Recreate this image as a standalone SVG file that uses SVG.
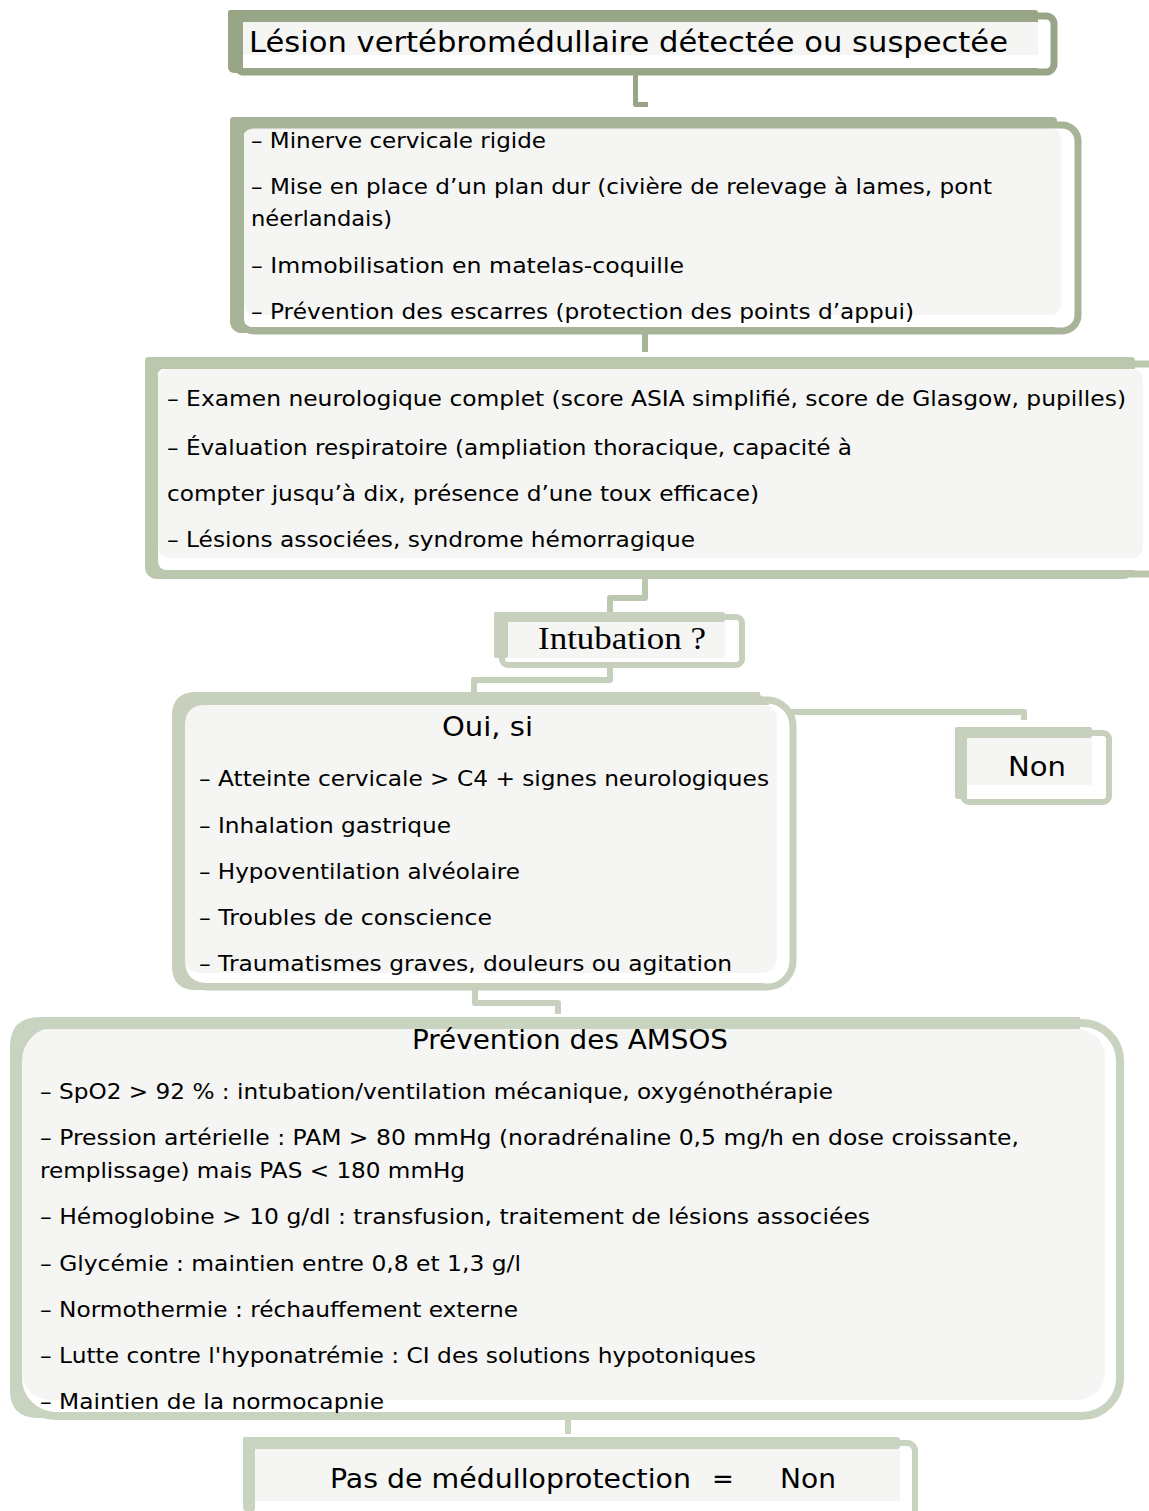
<svg xmlns="http://www.w3.org/2000/svg" width="1149" height="1511" viewBox="0 0 1149 1511">
<style>
  .t { font-family: "DejaVu Sans", "Liberation Sans", sans-serif; fill: #000; }
  .b { font-size: 21px; }
  .h { font-size: 26px; }
  .serif { font-family: "Liberation Serif", "DejaVu Serif", serif; font-size: 31px; fill: #000; }
  .lf { fill: #f5f5f3; }
  .wh { fill: #ffffff; }
  .c1 { fill: #98a586; } .s1 { stroke: #98a586; }
  .c2 { fill: #a7b497; } .s2 { stroke: #a7b497; }
  .c3 { fill: #bbc8ae; } .s3 { stroke: #bbc8ae; }
  .c4 { fill: #c6d0bc; } .s4 { stroke: #c6d0bc; }
  .c5 { fill: #c8d3c0; } .s5 { stroke: #c8d3c0; }
  .ol { fill: none; }
  .cn { fill: none; stroke-linejoin: round; }
</style>

<g id="connectors">
  <path class="cn s1" d="M635.5 74 V104.5 H648" stroke-width="5"/>
  <path class="cn s2" d="M645 334 V352" stroke-width="6"/>
  <path class="cn s3" d="M645 577 V598 H610 V612" stroke-width="6"/>
  <path class="cn s4" d="M610 667 V680 H474 V692" stroke-width="6"/>
  <path class="cn s4" d="M785 712 H1024 V720" stroke-width="6"/>
  <path class="cn s4" d="M475 990 V1003 H558 V1014" stroke-width="6"/>
  <path class="cn s5" d="M568 1416 V1434" stroke-width="6"/>
</g>

<g id="n1">
  <rect class="c1" x="228" y="10" width="810" height="63" rx="6"/>
  <rect class="wh" x="243" y="22" width="810" height="46"/>
  <rect class="lf" x="243" y="22" width="795" height="33"/>
  <rect class="ol s1" x="236" y="16" width="818" height="56" rx="8" stroke-width="7"/>
  <rect class="c1" x="228" y="10" width="810" height="12" rx="3"/>
  <rect class="c1" x="228" y="10" width="15" height="60" rx="3"/>
  <text class="t" x="249" y="52" font-size="29" textLength="759" lengthAdjust="spacingAndGlyphs">Lésion vertébromédullaire détectée ou suspectée</text>
</g>

<g id="n2">
  <rect class="c2" x="230" y="117" width="827" height="216" rx="12"/>
  <rect class="wh" x="244" y="128" width="830" height="199"/>
  <rect class="lf" x="244" y="128" width="817" height="187" rx="10"/>
  <rect class="ol s2" x="238" y="125" width="840" height="206" rx="16" stroke-width="7"/>
  <rect class="c2" x="230" y="117" width="827" height="11" rx="4"/>
  <path class="c2" d="M230 121 Q230 117 234 117 H244 V318 Q244 329 255 329 V333 H244 Q230 333 230 319 Z"/>
  <g class="t b">
    <text x="251" y="148" textLength="295" lengthAdjust="spacingAndGlyphs">– Minerve cervicale rigide</text>
    <text x="251" y="194" textLength="741" lengthAdjust="spacingAndGlyphs">– Mise en place d’un plan dur (civière de relevage à lames, pont</text>
    <text x="251" y="226" textLength="141" lengthAdjust="spacingAndGlyphs">néerlandais)</text>
    <text x="251" y="273" textLength="433" lengthAdjust="spacingAndGlyphs">– Immobilisation en matelas-coquille</text>
    <text x="251" y="319" textLength="663" lengthAdjust="spacingAndGlyphs">– Prévention des escarres (protection des points d’appui)</text>
  </g>
</g>

<g id="n3">
  <rect class="c3" x="145" y="357" width="990" height="222" rx="12"/>
  <rect class="wh" x="158" y="369" width="1000" height="201"/>
  <rect class="lf" x="158" y="369" width="985" height="189" rx="10"/>
  <rect class="ol s3" x="152" y="364" width="1012" height="210" rx="16" stroke-width="7"/>
  <rect class="c3" x="145" y="357" width="990" height="12" rx="4"/>
  <path class="c3" d="M145 361 Q145 357 149 357 H158 V560 Q158 571 169 571 V578 H158 Q145 578 145 565 Z"/>
  <g class="t b">
    <text x="167" y="406" textLength="959" lengthAdjust="spacingAndGlyphs">– Examen neurologique complet (score ASIA simplifié, score de Glasgow, pupilles)</text>
    <text x="167" y="455" textLength="685" lengthAdjust="spacingAndGlyphs">– Évaluation respiratoire (ampliation thoracique, capacité à</text>
    <text x="167" y="501" textLength="592" lengthAdjust="spacingAndGlyphs">compter jusqu’à dix, présence d’une toux efficace)</text>
    <text x="167" y="547" textLength="528" lengthAdjust="spacingAndGlyphs">– Lésions associées, syndrome hémorragique</text>
  </g>
</g>

<g id="n4">
  <rect class="wh" x="508" y="622" width="231" height="40"/>
  <rect class="lf" x="508" y="622" width="217" height="36"/>
  <rect class="ol s4" x="502" y="617" width="240" height="48" rx="6" stroke-width="6"/>
  <rect class="c4" x="494" y="612" width="231" height="10" rx="2"/>
  <rect class="c4" x="494" y="612" width="14" height="46" rx="2"/>
  <text class="serif" x="538" y="649" textLength="168" lengthAdjust="spacingAndGlyphs">Intubation ?</text>
</g>

<g id="n5">
  <rect class="c4" x="172" y="692" width="600" height="298" rx="24"/>
  <rect class="wh" x="185" y="705" width="602" height="278"/>
  <rect class="lf" x="185" y="705" width="592" height="268" rx="14"/>
  <rect class="ol s4" x="180" y="700" width="613" height="287" rx="26" stroke-width="7"/>
  <path class="c4" d="M172 716 Q172 692 196 692 H760 V705 H205 Q185 705 185 725 V960 Q185 983 208 983 V990 H196 Q172 990 172 966 Z"/>
  <text class="t h" x="442" y="736" textLength="91" lengthAdjust="spacingAndGlyphs">Oui, si</text>
  <g class="t b">
    <text x="199" y="786" textLength="570" lengthAdjust="spacingAndGlyphs">– Atteinte cervicale &gt; C4 + signes neurologiques</text>
    <text x="199" y="833" textLength="252" lengthAdjust="spacingAndGlyphs">– Inhalation gastrique</text>
    <text x="199" y="879" textLength="321" lengthAdjust="spacingAndGlyphs">– Hypoventilation alvéolaire</text>
    <text x="199" y="925" textLength="293" lengthAdjust="spacingAndGlyphs">– Troubles de conscience</text>
    <text x="199" y="971" textLength="533" lengthAdjust="spacingAndGlyphs">– Traumatismes graves, douleurs ou agitation</text>
  </g>
</g>

<g id="n6">
  <rect class="wh" x="967" y="738" width="139" height="61"/>
  <rect class="lf" x="967" y="738" width="125" height="47"/>
  <rect class="ol s4" x="963" y="733" width="146" height="69" rx="6" stroke-width="6"/>
  <rect class="c4" x="955" y="727" width="137" height="11" rx="2"/>
  <rect class="c4" x="955" y="727" width="12" height="72" rx="3"/>
  <text class="t h" x="1008" y="776" textLength="58" lengthAdjust="spacingAndGlyphs">Non</text>
</g>

<g id="n7">
  <rect class="wh" x="22" y="1029" width="1094" height="383"/>
  <rect class="lf" x="22" y="1029" width="1083" height="371" rx="28"/>
  <rect class="ol s5" x="18" y="1023" width="1102" height="393" rx="38" stroke-width="8"/>
  <path class="c5" d="M10 1047 Q10 1017 40 1017 H1080 V1029 H50 Q22 1029 22 1057 V1385 Q22 1412 48 1412 V1418 H38 Q10 1418 10 1390 Z"/>
  <text class="t h" x="412" y="1049" textLength="316" lengthAdjust="spacingAndGlyphs">Prévention des AMSOS</text>
  <g class="t b">
    <text x="40" y="1099" textLength="793" lengthAdjust="spacingAndGlyphs">– SpO2 &gt; 92 % : intubation/ventilation mécanique, oxygénothérapie</text>
    <text x="40" y="1145" textLength="979" lengthAdjust="spacingAndGlyphs">– Pression artérielle : PAM &gt; 80 mmHg (noradrénaline 0,5 mg/h en dose croissante,</text>
    <text x="40" y="1178" textLength="425" lengthAdjust="spacingAndGlyphs">remplissage) mais PAS &lt; 180 mmHg</text>
    <text x="40" y="1224" textLength="830" lengthAdjust="spacingAndGlyphs">– Hémoglobine &gt; 10 g/dl : transfusion, traitement de lésions associées</text>
    <text x="40" y="1271" textLength="481" lengthAdjust="spacingAndGlyphs">– Glycémie : maintien entre 0,8 et 1,3 g/l</text>
    <text x="40" y="1317" textLength="478" lengthAdjust="spacingAndGlyphs">– Normothermie : réchauffement externe</text>
    <text x="40" y="1363" textLength="716" lengthAdjust="spacingAndGlyphs">– Lutte contre l'hyponatrémie : CI des solutions hypotoniques</text>
    <text x="40" y="1409" textLength="344" lengthAdjust="spacingAndGlyphs">– Maintien de la normocapnie</text>
  </g>
</g>

<g id="n8">
  <rect class="wh" x="255" y="1449" width="660" height="62"/>
  <rect class="lf" x="255" y="1449" width="645" height="52"/>
  <rect class="ol s5" x="251" y="1443" width="664" height="90" rx="8" stroke-width="6"/>
  <rect class="c5" x="243" y="1437" width="657" height="12" rx="3"/>
  <rect class="c5" x="243" y="1437" width="12" height="74" rx="3"/>
  <text class="t h" y="1488"><tspan x="330" textLength="361" lengthAdjust="spacingAndGlyphs">Pas de médulloprotection</tspan><tspan x="712">=</tspan><tspan x="780" textLength="56" lengthAdjust="spacingAndGlyphs">Non</tspan></text>
</g>
</svg>
